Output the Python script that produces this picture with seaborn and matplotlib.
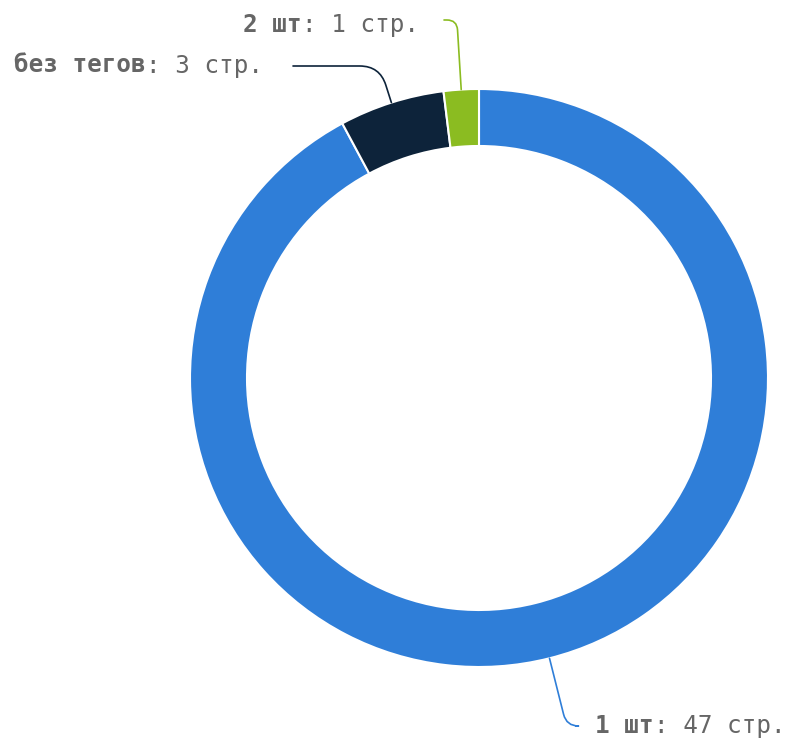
import matplotlib
matplotlib.use('Agg')
import matplotlib.pyplot as plt
import numpy as np
import seaborn as sns

# data
categories = ['1 шт', 'без тегов', '2 шт']
pages = [47, 3, 1]
unit = 'стр.'
colors = ['#2f7ed8', '#0d233a', '#8bbc21']

# layout (pixels, origin top-left)
W, H = 787, 743
CX, CY = 479, 378
R_OUT, R_IN = 289, 232
FS = 17.5
TEXT_COLOR = '#666666'
# text left edge + baseline, and where each connector ends next to its label
label_pos = [(595, 733), (14, 72.5), (243, 32)]
line_end = [(576, 726), (293, 66), (444, 20)]
corner_rad = [12, 20, 10]

sns.set_theme(style='white')
plt.rcParams['font.family'] = ['DejaVu Sans Mono', 'DejaVu Sans']

fig = plt.figure(figsize=(W / 100, H / 100), dpi=100)
ax = fig.add_axes([0, 0, 1, 1])

wedges, _ = ax.pie(pages, colors=colors, startangle=90, counterclock=False,
                   center=(CX, H - CY), radius=R_OUT,
                   wedgeprops=dict(width=R_OUT - R_IN, edgecolor='white', linewidth=1.5))
ax.set_xlim(0, W)
ax.set_ylim(0, H)
ax.set_aspect('equal')
ax.axis('off')

adv = 0.6021 * FS  # monospace advance, points

for w, cat, val, (lx, ly), (ex, ey), rad in zip(wedges, categories, pages,
                                               label_pos, line_end, corner_rad):
    mid = (w.theta1 + w.theta2) / 2
    px = w.center[0] + w.r * np.cos(np.deg2rad(mid))
    py = w.center[1] + w.r * np.sin(np.deg2rad(mid))
    # soft connector from slice edge to the label
    ax.annotate('', xy=(px, py), xytext=(ex, H - ey),
                arrowprops=dict(arrowstyle='-', color=w.get_facecolor(), lw=1.2,
                                shrinkA=0, shrinkB=0,
                                connectionstyle=f'angle,angleA=0,angleB={mid},rad={rad}'))
    ax.text(lx, H - ly, cat, ha='left', va='baseline', fontsize=FS,
            fontweight='bold', color=TEXT_COLOR)
    ax.annotate(f': {val} {unit}', xy=(lx, H - ly), xytext=(len(cat) * adv, 0),
                textcoords='offset points', ha='left', va='baseline',
                fontsize=FS, color=TEXT_COLOR)

fig.savefig('out.png', dpi=100)
